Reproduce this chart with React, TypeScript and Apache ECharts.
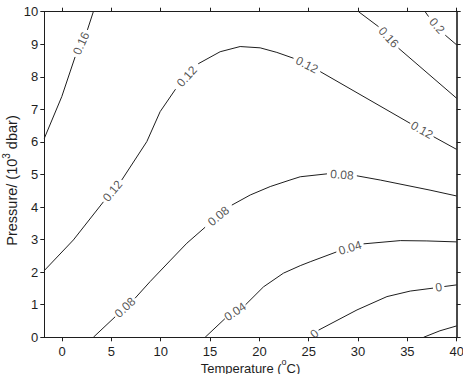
import React, { useEffect, useRef } from "react";
import * as echarts from "echarts";

type Pt = [number, number] | null;

// Axis tick values
const xTicks = [0, 5, 10, 15, 20, 25, 30, 35, 40];
const yTicks = [0, 1, 2, 3, 4, 5, 6, 7, 8, 9, 10];

// Contour polylines (temperature, pressure); null marks where an inline label sits
const level016Left: Pt[] = [[-1.8, 6.11], [-0.03, 7.39], [0.81, 8.15], [1.32, 8.61], null, [2.57, 9.44], [3.17, 10]];
const level016Right: Pt[] = [[30.05, 10], [32.08, 9.54], null, [34.1, 8.88], [40, 7.34]];
const level020: Pt[] = [[36.8, 10], [37.15, 9.85], null, [38.84, 9.28], [40, 8.98]];
const level012: Pt[] = [
  [-1.8, 2.05], [1.15, 2.99], [4.19, 4.16], null, [6.05, 4.83], [8.59, 6.01], [9.94, 6.93],
  [11.5, 7.62], null, [13.8, 8.4], [16.02, 8.77], [18.05, 8.93], [20.08, 8.89], [21.77, 8.75],
  [23.46, 8.57], null, [26.17, 8.16], [35.29, 6.57], null, [37.66, 6.16], [40, 5.77],
];
const level008: Pt[] = [
  [3.17, 0], [5.38, 0.63], null, [7.4, 1.2], [8.92, 1.71], [11.0, 2.37], [12.65, 2.89], [14.5, 3.38],
  null, [17.21, 4.06], [19.07, 4.37], [21.1, 4.63], [23.1, 4.83], [24.14, 4.93], [26.85, 5.02],
  null, [29.88, 4.96], [32.25, 4.83], [37.3, 4.52], [40, 4.34],
];
const level004: Pt[] = [
  [14.5, 0], [16.5, 0.57], null, [18.6, 1.0], [20.42, 1.55], [22.44, 1.97], [24.14, 2.2],
  [25.15, 2.32], [27.8, 2.62], null, [30.56, 2.87], [34.28, 2.97], [36.98, 2.96], [40, 2.93],
];
const level000: Pt[] = [
  [25.15, 0], null, [26.0, 0.22], [29.89, 0.84], [32.93, 1.25], [35.29, 1.42], [37.6, 1.51],
  null, [38.75, 1.56], [40, 1.61],
];
const levelNeg004: Pt[] = [[36.64, 0], [38.3, 0.2], [40, 0.35]];

const contours: { level: string; points: Pt[] }[] = [
  { level: "0.16", points: level016Left },
  { level: "0.16", points: level016Right },
  { level: "0.2", points: level020 },
  { level: "0.12", points: level012 },
  { level: "0.08", points: level008 },
  { level: "0.04", points: level004 },
  { level: "0", points: level000 },
  { level: "-0.04", points: levelNeg004 },
];

const INK = "#1e1e1e";
const FONT = "'Liberation Sans', Arial, sans-serif";

function split(points: Pt[]) {
  const segments: [number, number][][] = [];
  const gaps: [[number, number], [number, number]][] = [];
  let cur: [number, number][] = [];
  points.forEach((p, i) => {
    if (p === null) {
      segments.push(cur);
      cur = [];
      const a = points[i - 1] as [number, number];
      const b = points[i + 1] as [number, number];
      gaps.push([a, b]);
    } else {
      cur.push(p);
    }
  });
  segments.push(cur);
  return { segments, gaps };
}

// Rich styles for axis titles with a raised superscript
const xTitleRich = {
  n: { fontSize: 13, fontFamily: FONT, color: INK, lineHeight: 18, verticalAlign: "bottom" },
  sup: { fontSize: 9, fontFamily: FONT, color: INK, lineHeight: 10, verticalAlign: "top" },
};
const yTitleRich = {
  n: { fontSize: 14.5, fontFamily: FONT, color: INK, lineHeight: 18, verticalAlign: "bottom" },
  sup: { fontSize: 10, fontFamily: FONT, color: INK, lineHeight: 10, verticalAlign: "top" },
};

export default function App() {
  const ref = useRef<HTMLDivElement>(null);

  useEffect(() => {
    if (!ref.current) return;
    const chart = echarts.init(ref.current, null, { renderer: "svg" });

    const lineSeries: any[] = [];
    const labelDefs: { text: string; a: [number, number]; b: [number, number] }[] = [];
    contours.forEach((c) => {
      const { segments, gaps } = split(c.points);
      segments.forEach((seg) => {
        if (seg.length < 2) return;
        lineSeries.push({
          type: "line",
          data: seg,
          symbol: "none",
          silent: true,
          lineStyle: { color: INK, width: 1 },
        });
      });
      gaps.forEach(([a, b]) => labelDefs.push({ text: c.level, a, b }));
    });

    const axisLine = { onZero: false, lineStyle: { color: INK, width: 1 } };
    const labelStyle = { color: INK, fontSize: 13, fontFamily: FONT };

    const base: any = {
      animation: false,
      grid: {
        left: 44.3,
        right: 6.3,
        top: 11.7,
        bottom: 36.7,
        containLabel: false,
        outerBoundsMode: "none",
      },
      xAxis: [
        {
          type: "value",
          min: -1.8,
          max: 40,
          position: "bottom",
          axisLine,
          axisTick: { inside: false, length: 4, customValues: xTicks, lineStyle: { color: INK } },
          axisLabel: { ...labelStyle, customValues: xTicks, margin: 8 },
          splitLine: { show: false },
          name: "{n|Temperature (}{sup|o}{n|C)}",
          nameLocation: "middle",
          nameGap: 20,
          nameMoveOverlap: false,
          nameTextStyle: { color: INK, fontSize: 13, fontFamily: FONT, rich: xTitleRich },
        },
        {
          type: "value",
          min: -1.8,
          max: 40,
          position: "top",
          axisLine,
          axisTick: { inside: false, length: 4, customValues: xTicks, lineStyle: { color: INK } },
          axisLabel: { show: false },
          splitLine: { show: false },
        },
      ],
      yAxis: [
        {
          type: "value",
          min: 0,
          max: 10,
          interval: 1,
          position: "left",
          axisLine,
          axisTick: { inside: false, length: 4, lineStyle: { color: INK } },
          axisLabel: { ...labelStyle, margin: 6, customValues: yTicks },
          splitLine: { show: false },
          name: "{n|Pressure/ (10}{sup|3}{n| dbar)}",
          nameLocation: "middle",
          nameGap: 25,
          nameMoveOverlap: false,
          nameRotate: 90,
          nameTextStyle: {
            color: INK,
            fontSize: 14.5,
            fontFamily: FONT,
            padding: [0, 12, 0, 0],
            rich: yTitleRich,
          },
        },
        {
          type: "value",
          min: 0,
          max: 10,
          interval: 1,
          position: "right",
          axisLine: { onZero: false, lineStyle: { color: "#4a4a4a", width: 2 } },
          axisTick: { inside: false, length: 4, lineStyle: { color: INK } },
          axisLabel: { show: false },
          splitLine: { show: false },
        },
      ],
      series: lineSeries,
    };

    chart.setOption(base);

    // Inline contour labels, rotated to follow the line in screen space
    const labelData = labelDefs.map((d) => {
      const pa = chart.convertToPixel({ gridIndex: 0 }, d.a) as number[];
      const pb = chart.convertToPixel({ gridIndex: 0 }, d.b) as number[];
      let ang = (Math.atan2(-(pb[1] - pa[1]), pb[0] - pa[0]) * 180) / Math.PI;
      if (ang > 90) ang -= 180;
      if (ang < -90) ang += 180;
      return {
        value: [(d.a[0] + d.b[0]) / 2, (d.a[1] + d.b[1]) / 2],
        label: { rotate: ang, formatter: d.text },
      };
    });

    chart.setOption({
      series: [
        ...lineSeries,
        {
          type: "scatter",
          data: labelData,
          symbolSize: 0,
          silent: true,
          clip: false,
          label: {
            show: true,
            position: "inside",
            align: "center",
            verticalAlign: "middle",
            color: "#2a2a2a",
            fontSize: 12,
            fontFamily: FONT,
          },
        },
      ],
    });

    return () => chart.dispose();
  }, []);

  return (
    <div
      ref={ref}
      style={{ position: "fixed", left: 0, top: 0, width: 463, height: 374, background: "#fff" }}
    />
  );
}
